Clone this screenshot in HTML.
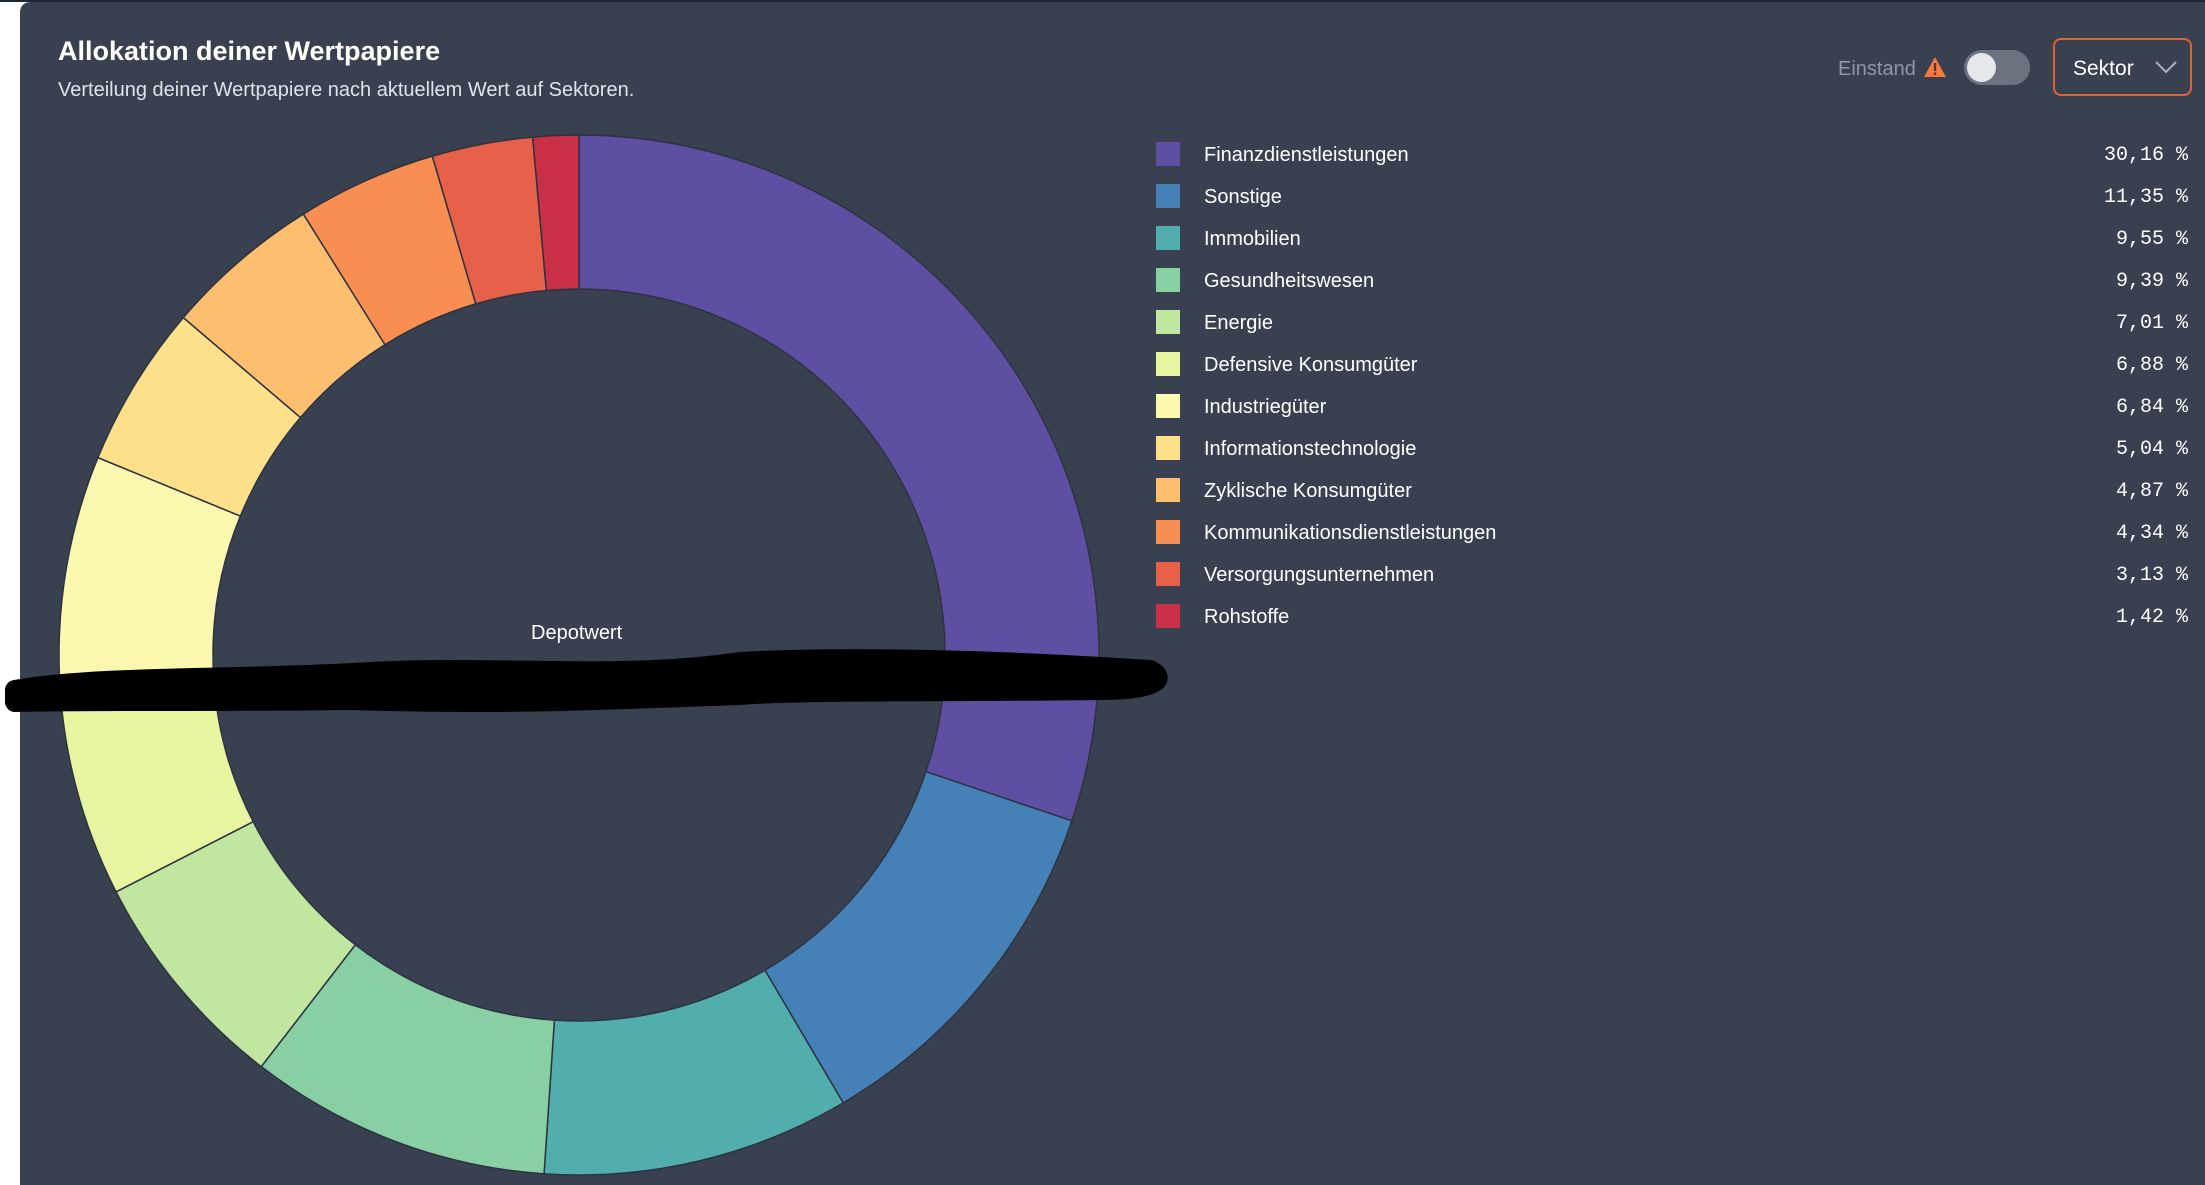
<!DOCTYPE html>
<html><head><meta charset="utf-8"><style>
html,body{margin:0;padding:0;width:2205px;height:1185px;overflow:hidden;background:#fff;font-family:"Liberation Sans",sans-serif}
#panel{position:absolute;left:20px;top:2px;width:2185px;height:1183px;background:#394150;border-top-left-radius:10px}
#topbar{position:absolute;left:0;top:0;width:2205px;height:2px;background:#1f2533}
.t{position:absolute;white-space:nowrap}
</style></head><body>
<div id="topbar"></div>
<div id="panel"></div>
<div class="t" style="left:58px;top:36px;font-size:27px;font-weight:bold;color:#fff">Allokation deiner Wertpapiere</div>
<div class="t" style="left:58px;top:79px;font-size:20px;color:#dfe3ea">Verteilung deiner Wertpapiere nach aktuellem Wert auf Sektoren.</div>
<div class="t" style="left:1838px;top:58px;font-size:20px;color:#8e98a8">Einstand</div>
<svg style="position:absolute;left:1923px;top:56px" width="24" height="22"><path d="M12 1 L23 21 L1 21 Z" fill="#f9793d"/><rect x="10.8" y="7" width="2.4" height="8" fill="#394150"/><rect x="10.8" y="16.5" width="2.4" height="2.4" fill="#394150"/></svg>
<div style="position:absolute;left:1964px;top:50px;width:66px;height:35px;border-radius:18px;background:#6b7280"><div style="position:absolute;left:3px;top:3px;width:29px;height:29px;border-radius:50%;background:#e5e7eb"></div></div>
<div style="position:absolute;left:2053px;top:38px;width:139px;height:58px;box-sizing:border-box;border:2px solid #e8602f;border-radius:8px">
<span style="position:absolute;left:18px;top:17px;font-size:21px;color:#fff">Sektor</span>
<svg style="position:absolute;left:100px;top:20px" width="22" height="14"><path d="M1 2 L11 12 L21 2" fill="none" stroke="#aab2c0" stroke-width="2"/></svg></div>
<svg id="chart" width="2205" height="1185" style="position:absolute;left:0;top:0"></svg>
<div class="t" style="left:531px;top:622px;font-size:20px;color:#fff">Depotwert</div>
<svg width="2205" height="1185" style="position:absolute;left:0;top:0"><path d="M15 690 C100 675 250 680 370 672 C500 665 620 680 740 662 C850 656 1000 660 1150 670 C1170 680 1150 690 1100 690 C950 692 800 690 740 695 C600 700 500 705 350 700 C200 702 100 700 15 702 Z" fill="#000" stroke="#000" stroke-width="20" stroke-linejoin="round"/></svg>
<div id="legend"></div>
<script>
const categories=["Finanzdienstleistungen","Sonstige","Immobilien","Gesundheitswesen","Energie","Defensive Konsumgüter","Industriegüter","Informationstechnologie","Zyklische Konsumgüter","Kommunikationsdienstleistungen","Versorgungsunternehmen","Rohstoffe"];
const values=[30.16,11.35,9.55,9.39,7.01,6.88,6.84,5.04,4.87,4.34,3.13,1.42];
const labels=["30,16 %","11,35 %","9,55 %","9,39 %","7,01 %","6,88 %","6,84 %","5,04 %","4,87 %","4,34 %","3,13 %","1,42 %"];
const colors=["#5e4fa2","#4580b6","#52aead","#88cfa4","#c1e6a0","#e8f5a0","#fdf8af","#fee08b","#fdbe6f","#f98e52","#e7604a","#ca2f48"];
const svg=document.getElementById('chart');const NS="http://www.w3.org/2000/svg";
const cx=579,cy=655,R=520,r=366;
const total=values.reduce((a,b)=>a+b,0);
function pt(a,rad){return [cx+rad*Math.sin(a),cy-rad*Math.cos(a)];}
let acc=0;
values.forEach((v,i)=>{
 const a0=acc/total*2*Math.PI;acc+=v;const a1=acc/total*2*Math.PI;
 const large=(a1-a0)>Math.PI?1:0;
 const p0=pt(a0,R),p1=pt(a1,R),q1=pt(a1,r),q0=pt(a0,r);
 const p=document.createElementNS(NS,'path');
 p.setAttribute('d',`M${p0} A${R},${R} 0 ${large} 1 ${p1} L${q1} A${r},${r} 0 ${large} 0 ${q0} Z`);
 p.setAttribute('fill',colors[i]);p.setAttribute('stroke','#2c3340');p.setAttribute('stroke-width','1.5');
 
 
 svg.appendChild(p);
});
const lg=document.getElementById('legend');
categories.forEach((c,i)=>{
 const y=142+i*42;
 const s=document.createElement('div');s.style.cssText=`position:absolute;left:1156px;top:${y}px;width:24px;height:24px;background:${colors[i]}`;
 
 
 lg.appendChild(s);
 const t=document.createElement('div');t.className='t';t.style.cssText=`left:1204px;top:${y+2}px;font-size:20px;color:#fff`;t.textContent=c;
 
 
 lg.appendChild(t);
 const v=document.createElement('div');v.className='t';v.style.cssText=`right:17px;top:${y+2}px;font-size:20px;color:#fff;font-family:"Liberation Mono",monospace`;v.textContent=labels[i];
 
 
 lg.appendChild(v);
});
</script>
</body></html>
